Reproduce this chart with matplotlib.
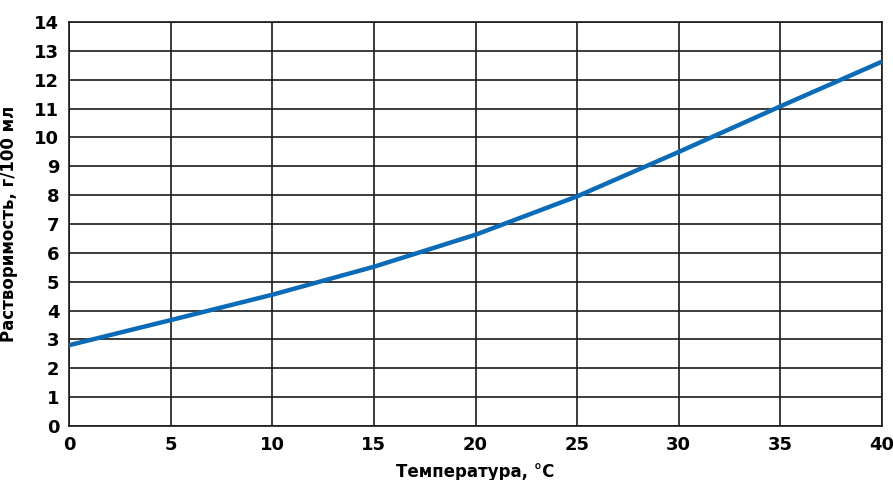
import matplotlib.pyplot as plt

temps = [0, 5, 10, 15, 20, 25, 30, 35, 40]
solubility = [2.8, 3.67, 4.55, 5.52, 6.63, 7.96, 9.5, 11.08, 12.63]

x_ticks = list(range(0, 41, 5))
y_ticks = list(range(0, 15))

plt.rcParams['font.family'] = ['DejaVu Sans Condensed', 'DejaVu Sans']
plt.rcParams['font.weight'] = 'bold'

fig = plt.figure(figsize=(8.93, 4.80), dpi=100)
ax = fig.add_axes([0.0773, 0.1125, 0.9104, 0.8415])

ax.plot(temps, solubility, color='#0b6bb7', linewidth=3.2, solid_capstyle='round', zorder=3)

ax.set_xlim(0, 40)
ax.set_ylim(0, 14)
ax.set_xticks(x_ticks)
ax.set_yticks(y_ticks)
ax.grid(True, color='#1a1a1a', linewidth=1.2)
ax.tick_params(length=0, labelsize=13, pad=7)
for spine in ax.spines.values():
    spine.set_color('#1a1a1a')
    spine.set_linewidth(1.2)

ax.set_ylabel('Растворимость, г/100 мл', fontsize=12, fontweight='bold', labelpad=12)
ax.set_xlabel('Температура, °С', fontsize=12, fontweight='bold', labelpad=7)

fig.savefig('out.png', dpi=100)
